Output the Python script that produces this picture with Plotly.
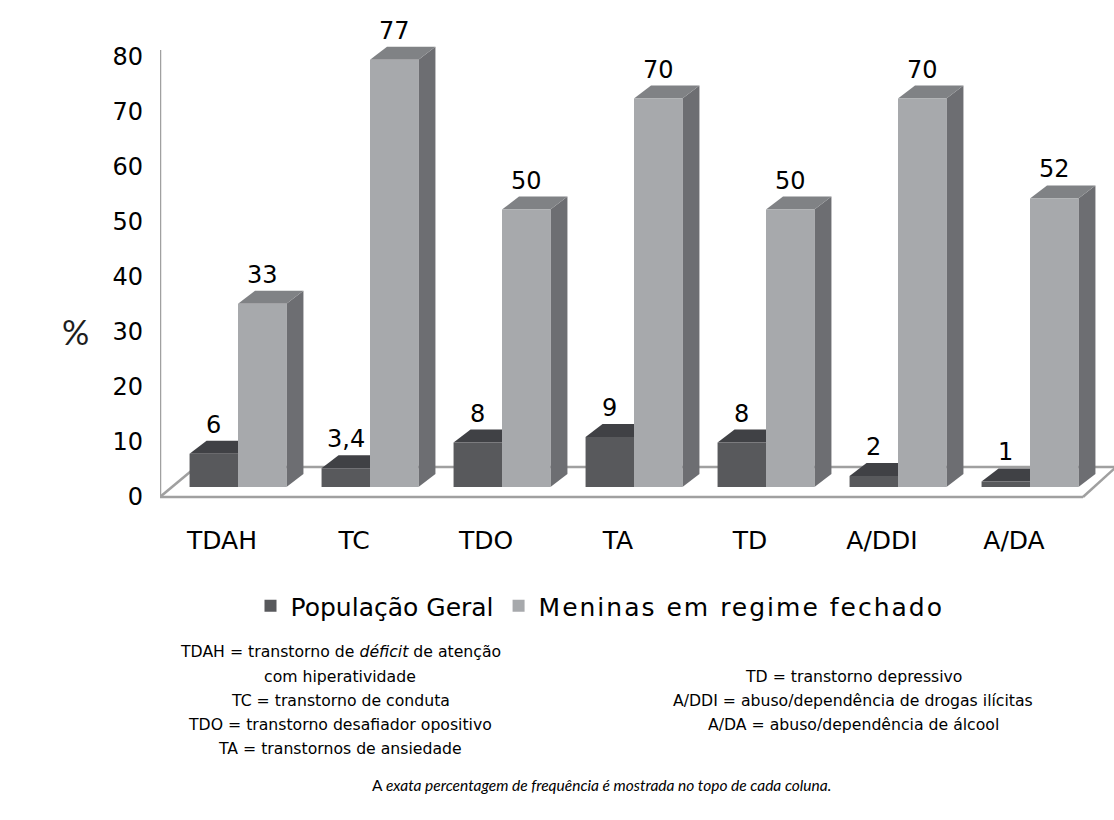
import plotly.graph_objects as go

# ---- data ---------------------------------------------------------------
categories = ["TDAH", "TC", "TDO", "TA", "TD", "A/DDI", "A/DA"]
populacao_geral = [6, 3.4, 8, 9, 8, 2, 1]
meninas_regime_fechado = [33, 77, 50, 70, 50, 70, 52]
value_ticks = [0, 10, 20, 30, 40, 50, 60, 70, 80]

series = [
    ("População Geral", populacao_geral,
     dict(front="rgb(88,89,92)", top="rgb(64,65,69)", side="rgb(58,59,62)"), 0),
    ("Meninas em regime fechado", meninas_regime_fechado,
     dict(front="rgb(167,169,172)", top="rgb(128,130,133)", side="rgb(109,110,114)"), 2),
]

# ---- layout geometry ----------------------------------------------------
W, H = 1114, 820
L, R, T, B = 160, 0, 40, 320
plot_w, plot_h = W - L - R, H - T - B

slot_px = 132.0          # width of one category slot
slot0_px = 238.0         # pixel centre of first slot
px_per_unit_bar = 5.55   # vertical scale of the columns
bar_zero_px = 487.0      # column base (middle depth of the floor)
px_per_unit_axis = 5.5   # vertical scale of the value labels (front edge)
axis_zero_px = 497.0

x_range = [(L - slot0_px) / slot_px, (W - R - slot0_px) / slot_px]
y_bar_range = [-(T + plot_h - bar_zero_px) / px_per_unit_bar,
               (bar_zero_px - T) / px_per_unit_bar]
y_axis_range = [-(T + plot_h - axis_zero_px) / px_per_unit_axis,
                (axis_zero_px - T) / px_per_unit_axis]

bar_w = 0.367            # width of one column in slot units
depth_dx = 17.0 / slot_px
depth_dy = 13.0 / px_per_unit_bar

FONT = "DejaVu Sans"
NOTE_ITALIC_FONT = "Lato"


def px_to_paper_x(px):
    return (px - L) / plot_w


def px_to_paper_y(py):
    return (T + plot_h - py) / plot_h


def px_to_x(px):
    return (px - slot0_px) / slot_px


def px_to_yaxis(py):
    return (axis_zero_px - py) / px_per_unit_axis


fig = go.Figure()
xs = list(range(len(categories)))

for name, vals, col, spacing in series:
    label = name
    if spacing:
        label = f'<span style="letter-spacing:{spacing}px">{name}</span>'
    fig.add_trace(go.Bar(
        name=label, x=xs, y=vals, yaxis="y2",
        marker=dict(color=col["front"], line=dict(width=0)),
        hoverinfo="skip",
    ))

shapes = []

# floor and wall outline (drawn first so the columns sit on top)
frame_col = "rgb(160,160,160)"
back_y = px_to_yaxis(467)
floor_lines = [
    ((px_to_x(160), px_to_yaxis(50)), (px_to_x(160), 0)),          # wall edge
    ((px_to_x(160), 0), (px_to_x(1083), 0)),                        # front edge
    ((px_to_x(160), 0), (px_to_x(196), back_y)),                    # left depth
    ((px_to_x(1083), 0), (px_to_x(1116), back_y)),                  # right depth
    ((px_to_x(196), back_y), (px_to_x(1116), back_y)),              # back edge
]
for (ax, ay), (bx, by) in floor_lines:
    shapes.append(dict(type="line", x0=ax, y0=ay, x1=bx, y1=by,
                       xref="x", yref="y", line=dict(color=frame_col, width=2.5),
                       layer="below"))

# 3-D faces (top and right side) of every column, built from the values
offsets = [-bar_w / 2, bar_w / 2]
for (name, vals, col, _), off in zip(series, offsets):
    for i, v in enumerate(vals):
        xl = i + off - bar_w / 2
        xr = i + off + bar_w / 2
        side = (f"M {xr},0 L {xr},{v} L {xr + depth_dx},{v + depth_dy} "
                f"L {xr + depth_dx},{depth_dy} Z")
        top = (f"M {xl},{v} L {xr},{v} L {xr + depth_dx},{v + depth_dy} "
               f"L {xl + depth_dx},{v + depth_dy} Z")
        for path, c in ((side, col["side"]), (top, col["top"])):
            shapes.append(dict(type="path", path=path, xref="x", yref="y2",
                               fillcolor=c, line=dict(width=0), layer="below"))

annotations = []
# value labels above each column
for (name, vals, col, _), off in zip(series, offsets):
    for i, v in enumerate(vals):
        txt = f"{v:g}".replace(".", ",")
        annotations.append(dict(x=i + off, y=v, xref="x", yref="y2", text=txt,
                                showarrow=False, yshift=29, yanchor="middle",
                                xanchor="center",
                                font=dict(family=FONT, size=24, color="black")))

# axis title
annotations.append(dict(x=px_to_paper_x(75), y=px_to_paper_y(331), xref="paper",
                        yref="paper", text="%", showarrow=False,
                        xanchor="center", yanchor="middle",
                        font=dict(family="Lato", size=34, color="rgb(30,30,30)")))

# footnotes
note_font = dict(family=FONT, size=15.7, color="black")
left_notes = [
    "TDAH = transtorno de <i>déficit</i> de atenção",
    "com hiperatividade",
    "TC = transtorno de conduta",
    "TDO = transtorno desafiador opositivo",
    "TA = transtornos de ansiedade",
]
left_y = [651, 676, 700, 724, 748]
for txt, py in zip(left_notes, left_y):
    annotations.append(dict(x=px_to_paper_x(340), y=px_to_paper_y(py), xref="paper",
                            yref="paper", text=txt, showarrow=False,
                            xanchor="center", yanchor="middle", font=note_font))
right_notes = [
    "TD = transtorno depressivo",
    "A/DDI = abuso/dependência de drogas ilícitas",
    "A/DA = abuso/dependência de álcool",
]
right_y = [676, 700, 724]
for txt, py in zip(right_notes, right_y):
    annotations.append(dict(x=px_to_paper_x(853), y=px_to_paper_y(py), xref="paper",
                            yref="paper", text=txt, showarrow=False,
                            xanchor="center", yanchor="middle", font=note_font))
annotations.append(dict(
    x=px_to_paper_x(601), y=px_to_paper_y(785), xref="paper", yref="paper",
    text="A <i>exata percentagem de frequência é mostrada no topo de cada coluna.</i>",
    showarrow=False, xanchor="center", yanchor="middle",
    font=dict(family=NOTE_ITALIC_FONT, size=15.5, color="black")))

label_shift = -16.0 / slot_px

fig.update_layout(
    width=W, height=H,
    margin=dict(l=L, r=R, t=T, b=B, pad=0),
    paper_bgcolor="white", plot_bgcolor="white",
    barmode="group", bargap=1 - 2 * bar_w, bargroupgap=0,
    showlegend=True,
    legend=dict(orientation="h", xref="container", yref="container",
                x=600 / W, y=1 - 606 / H, xanchor="center", yanchor="middle",
                font=dict(family=FONT, size=25, color="black"),
                itemclick=False, itemdoubleclick=False),
    xaxis=dict(range=x_range, showgrid=False, zeroline=False, showline=False,
               tickmode="array", tickvals=[i + label_shift for i in xs],
               ticktext=categories, ticks="", ticklabelstandoff=23,
               tickfont=dict(family=FONT, size=25, color="black"),
               fixedrange=True),
    yaxis=dict(range=y_axis_range, showgrid=False, zeroline=False, showline=False,
               tickmode="array", tickvals=value_ticks, ticks="",
               ticklabelstandoff=16,
               tickfont=dict(family=FONT, size=24, color="black"),
               fixedrange=True),
    yaxis2=dict(range=y_bar_range, overlaying="y", side="left", visible=False,
                showgrid=False, zeroline=False, fixedrange=True),
    shapes=shapes,
    annotations=annotations,
)

fig.write_html("out.html")
